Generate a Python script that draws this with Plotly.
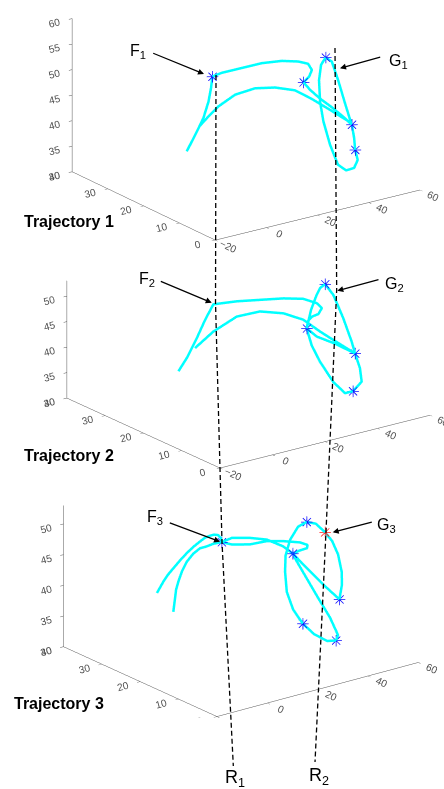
import plotly.graph_objects as go

# ---- Trajectory 1 (x, y, z in cm) ----
x1 = [5.2, 8.5, 11.7, 13.7, 14.7, 15.2, 16.1, 21.1, 26.1, 31.1, 34.8, 37.2, 38.7, 37.6, 35.4,
      36.6, 39.1, 42.0, 46.3, 50.1, 51.0, 51.4, 52.4, 51.0, 47.9, 44.7, 41.6, 39.0, 37.7, 37.3,
      38.1, 39.9, 42.3, 44.9, 47.5, 49.8, 51.8, 46.5, 41.5, 36.3, 29.9, 23.5, 17.1, 12.0, 9.0, 7.6]
y1 = [26, 26, 26, 26, 26, 26, 24, 22, 20, 18, 16, 15, 15, 15, 15,
      14, 13, 12, 12, 12, 12, 12, 12, 12, 12, 12, 12, 12, 12, 12,
      12, 12, 12, 12, 12, 12, 16, 16, 17, 18, 19, 20, 21, 22, 23, 24]
z1 = [35.6, 38.4, 41.3, 44.3, 46.9, 49.0, 50.3, 51.3, 52.3, 52.8, 52.9, 52.5, 51.1, 49.9, 49.1,
      47.8, 46.1, 44.5, 42.2, 40.0, 37.3, 34.9, 32.8, 31.4, 31.3, 32.8, 37.1, 42.0, 46.0, 50.3,
      53.2, 54.4, 53.3, 49.1, 44.4, 40.4, 39.9, 42.2, 44.4, 46.4, 47.4, 47.7, 46.9, 44.9, 42.7, 41.0]
kx1 = [15.2, 35.4, 50.1, 51.4, 39.9]
ky1 = [26, 15, 12, 12, 12]
kz1 = [49.0, 49.1, 40.0, 34.9, 54.4]

# ---- Trajectory 2 ----
x2 = [2.1, 5.3, 9.1, 12.3, 15.4, 21.4, 27.4, 33.3, 38.0, 41.7, 43.6, 42.3, 39.8, 36.9, 36.4,
      39.5, 42.9, 44.4, 46.3, 48.0, 50.3, 53.5, 54.8, 55.2, 54.4, 49.6, 46.6, 42.1, 38.5, 36.8,
      37.0, 36.4, 40.2, 47.2, 54.8, 48.6, 42.9, 38.0, 31.9, 24.4, 17.0, 9.6, 5.5]
y2 = [26, 26, 26, 26, 26, 24, 22, 20, 18, 17, 17, 17, 17, 16, 16,
      17, 18, 18, 18, 17, 16, 16, 16, 15, 14, 13, 13, 13, 14, 15,
      16, 16, 16, 16, 16, 17, 17, 18, 19, 20, 21, 22, 24]
z2 = [37.2, 39.4, 42.8, 46.0, 48.6, 49.1, 49.3, 49.5, 49.5, 48.5, 47.3, 46.3, 46.1, 46.0, 44.6,
      47.5, 49.4, 50.8, 51.3, 49.3, 44.8, 39.8, 37.3, 34.7, 32.5, 31.6, 31.6, 34.4, 38.5, 41.6,
      43.4, 44.6, 42.5, 40.2, 37.3, 40.2, 42.8, 45.4, 47.1, 48.1, 47.7, 45.4, 42.0]
kx2 = [36.4, 46.3, 54.8, 49.6]
ky2 = [16, 18, 16, 13]
kz2 = [44.6, 51.3, 37.3, 31.6]

# ---- Trajectory 3 ----
x3 = [-4.2, -2.9, -1.6, 0.2, 2.3, 5.0, 7.7, 10.2, 12.9, 14.9, 16.9, 18.5, 18.6, 19.8, 20.0,
      22.6, 28.2, 31.8, 35.2, 40.4, 41.9, 41.7, 37.4, 34.5,
      38.5, 43.6, 50.0,
      51.0, 50.9, 51.0, 48.6, 45.8, 42.2, 38.5,
      35.1, 31.9, 28.6, 28.4, 29.1, 30.1, 33.9, 38.4, 43.6, 47.1,
      47.9, 46.3, 41.5, 37.9, 35.8, 34.5,
      33.7, 30.3, 26.7, 22.6, 20.0,
      16.7, 15.3, 12.9, 10.2, 7.7, 5.8, 4.3, 3.4, 3.0, 2.3]
y3 = [26, 26, 26, 26, 26, 26, 26, 26, 26, 26, 26, 26, 25, 25, 25,
      24, 23, 21, 19, 18, 17, 17, 16, 16,
      15, 14, 14,
      14, 14, 15, 15, 15, 15, 15,
      15, 15, 14, 14, 14, 13, 13, 13, 13, 13,
      13, 14, 14, 15, 16, 16,
      18, 20, 22, 24, 25,
      25, 26, 26, 26, 26, 26, 26, 26, 26, 26]
z3 = [41.0, 41.8, 42.6, 43.5, 44.3, 45.3, 46.2, 46.9, 47.5, 47.9, 48.0, 48.0, 48.2, 47.5, 46.9,
      46.5, 46.2, 46.9, 47.1, 46.6, 46.3, 45.8, 46.2, 46.0,
      43.5, 40.5, 37.4,
      39.7, 41.8, 44.3, 46.8, 48.5, 50.3, 51.0,
      50.6, 48.8, 46.9, 44.3, 40.9, 38.2, 35.5, 33.3, 31.6, 31.3,
      32.1, 34.8, 38.6, 42.3, 44.8, 46.0,
      46.7, 47.6, 47.7, 47.6, 46.9,
      47.0, 46.4, 46.4, 45.8, 44.8, 43.5, 41.9, 40.7, 39.4, 37.2]
kx3 = [20.0, 34.5, 38.5, 50.0, 33.9, 47.1]
ky3 = [25, 16, 15, 14, 13, 13]
kz3 = [46.9, 46.0, 51.0, 37.4, 35.5, 31.3]
gx3 = [45.8]
gy3 = [15]
gz3 = [48.5]

x_range = [-20, 60]
y_range = [0, 40]
z_ranges = [[30, 60], [30, 53], [30, 53]]
x_ticks = [-20, 0, 20, 40, 60]
y_ticks = [0, 10, 20, 30, 40]
z_ticks = [[30, 35, 40, 45, 50, 55, 60], [30, 35, 40, 45, 50], [30, 35, 40, 45, 50]]
panel_names = ["Trajectory 1", "Trajectory 2", "Trajectory 3"]

CURVE = "#00FFFF"
STAR = "#1010FF"
STAR_RED = "#FF2020"

fig = go.Figure()
curves = [(x1, y1, z1), (x2, y2, z2), (x3, y3, z3)]
stars = [(kx1, ky1, kz1), (kx2, ky2, kz2), (kx3, ky3, kz3)]
for i in range(3):
    sc = "scene" if i == 0 else f"scene{i + 1}"
    cx, cy, cz = curves[i]
    fig.add_trace(go.Scatter3d(x=cx, y=cy, z=cz, mode="lines",
                               line=dict(color=CURVE, width=5), scene=sc,
                               showlegend=False, hoverinfo="skip"))
    sx, sy, sz = stars[i]
    fig.add_trace(go.Scatter3d(x=sx, y=sy, z=sz, mode="text", text=["\u2733"] * len(sx),
                               textposition="middle center",
                               textfont=dict(color=STAR, size=16, family="DejaVu Sans"),
                               scene=sc, showlegend=False, hoverinfo="skip"))
fig.add_trace(go.Scatter3d(x=gx3, y=gy3, z=gz3, mode="text", text=["\u2733"],
                           textposition="middle center",
                           textfont=dict(color=STAR_RED, size=16, family="DejaVu Sans"),
                           scene="scene3", showlegend=False, hoverinfo="skip"))


def axis(rng, ticks):
    return dict(range=rng, autorange=False, tickvals=ticks, showgrid=False, zeroline=False,
                showbackground=False, showline=True, linecolor="#555", linewidth=1,
                ticks="outside", ticklen=4, tickcolor="#555",
                tickfont=dict(size=11, color="#505050", family="Arial"),
                title=dict(text=""), showspikes=False)


# view direction, screen-right and screen-up vectors per panel
eyes = [(-0.547, -0.764, 0.342), (-0.561, -0.756, 0.339), (-0.571, -0.743, 0.350)]
rights = [(0.813, -0.582, 0.0), (0.803, -0.596, 0.0), (0.793, -0.609, 0.0)]
ups = [(0.199, 0.278, 0.939), (0.199, 0.268, 0.941), (0.209, 0.272, 0.937)]
aspects = [(1.0, 0.976, 0.647), (1.038, 1.02, 0.495), (1.008, 1.0, 0.598)]
zoom = 1.88
domains_y = [[0.66, 1.0], [0.3888, 0.7288], [0.0897, 0.4297]]
shift_up = [0.222, 0.0, 0.0]
shift_right = [0.18, 0.197, 0.141]
dist = 1.5
for i in range(3):
    key = "scene" if i == 0 else f"scene{i + 1}"
    ex, ey, ez = eyes[i]
    ku, kr = shift_up[i], shift_right[i]
    c = [-ku * ups[i][j] - kr * rights[i][j] for j in range(3)]
    ax_, ay_, az_ = aspects[i]
    fig.layout[key] = dict(
        domain=dict(x=[0.0, 1.0], y=domains_y[i]),
        xaxis=axis(x_range, x_ticks), yaxis=axis(y_range, y_ticks),
        zaxis=axis(z_ranges[i], z_ticks[i]),
        aspectmode="manual",
        aspectratio=dict(x=ax_ * zoom, y=ay_ * zoom, z=az_ * zoom),
        camera=dict(eye=dict(x=c[0] + ex * dist, y=c[1] + ey * dist, z=c[2] + ez * dist),
                    up=dict(x=0, y=0, z=1), center=dict(x=c[0], y=c[1], z=c[2]),
                    projection=dict(type="orthographic")),
        bgcolor="rgba(0,0,0,0)", dragmode=False)

# ---- labels, arrows and reference lines (paper coordinates) ----
W, H = 444.0, 789.0


def px(x, y):
    return x / W, 1 - y / H


annots = []
label_pos = [(22, 221.5), (21.7, 455), (11.7, 703.5)]
for name, (lx, ly) in zip(panel_names, label_pos):
    X, Y = px(lx, ly)
    annots.append(dict(x=X, y=Y, xref="paper", yref="paper", text=f"<b>{name}</b>",
                       showarrow=False, xanchor="left", yanchor="middle",
                       font=dict(size=16, color="black", family="Arial")))

point_labels = [("F<sub>1</sub>", 128, 51), ("G<sub>1</sub>", 387, 61),
                ("F<sub>2</sub>", 137, 279), ("G<sub>2</sub>", 383, 284),
                ("F<sub>3</sub>", 145, 517), ("G<sub>3</sub>", 375, 525)]
for t, lx, ly in point_labels:
    X, Y = px(lx, ly)
    annots.append(dict(x=X, y=Y, xref="paper", yref="paper", text=t, showarrow=False,
                       xanchor="left", yanchor="middle",
                       font=dict(size=16, color="black", family="Arial")))

arrows = [(204, 74, -52.3, -21.3), (340, 68.3, 41.7, -11.6),
          (211.7, 302.7, -52.4, -22.0), (337.3, 290.7, 42.7, -11.4),
          (220, 541.7, -51.7, -19.4), (332.7, 532.3, 40.6, -10.6)]
for hx, hy, dx, dy in arrows:
    X, Y = px(hx, hy)
    annots.append(dict(x=X, y=Y, xref="paper", yref="paper", text="", showarrow=True,
                       ax=dx, ay=dy, arrowhead=2, arrowsize=1, arrowwidth=1.2,
                       arrowcolor="black", standoff=0, startstandoff=0))

for t, lx, ly in [("R<sub>1</sub>", 223, 778), ("R<sub>2</sub>", 307, 776)]:
    X, Y = px(lx, ly)
    annots.append(dict(x=X, y=Y, xref="paper", yref="paper", text=t, showarrow=False,
                       xanchor="left", yanchor="middle",
                       font=dict(size=18, color="black", family="Arial")))

ref_lines = [[(216, 75), (215.5, 303), (222, 542), (233.3, 766)],
             [(335, 48), (336.7, 290), (326, 532), (315, 762)]]
shapes = []
for pts in ref_lines:
    path = " ".join(("M" if j == 0 else "L") + f" {px(*p)[0]:.4f},{px(*p)[1]:.4f}"
                    for j, p in enumerate(pts))
    shapes.append(dict(type="path", path=path, xref="paper", yref="paper",
                       line=dict(color="black", width=1.3, dash="5px,3px"), layer="above"))

fig.update_layout(width=444, height=789, margin=dict(l=0, r=0, t=0, b=0),
                  paper_bgcolor="white", plot_bgcolor="white", showlegend=False,
                  annotations=annots, shapes=shapes)

fig.write_html("out.html", config={"displayModeBar": False})
